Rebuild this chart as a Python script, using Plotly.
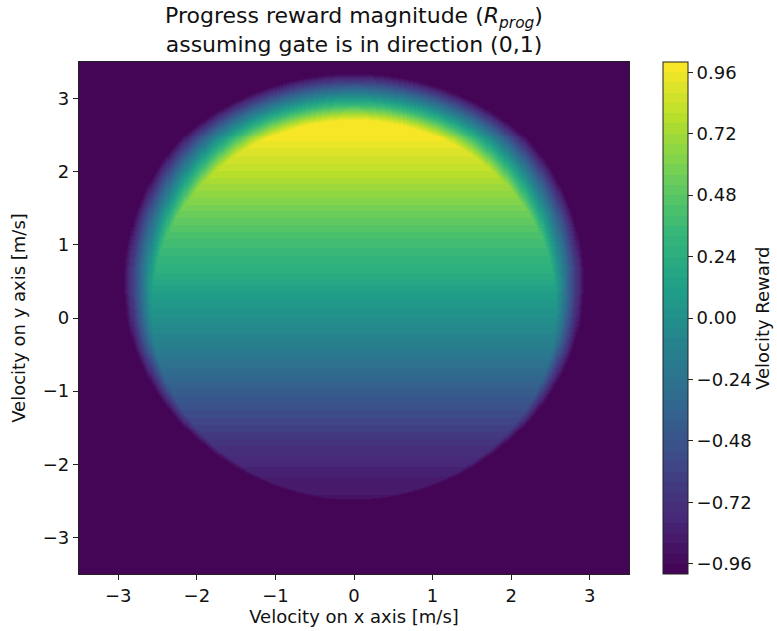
import numpy as np
import plotly.graph_objects as go
from plotly.colors import sample_colorscale

# ---- values ----
# reward along the gate direction (v_y) inside the allowed speed disc
vy_profile = [-3.5, -2.6, -2.24, -1.76, -1.28, -0.8, -0.4, 0.0, 0.17, 0.65, 1.13, 1.6, 2.08, 2.47, 2.7, 3.5]
reward_profile = [-0.95, -0.9, -0.86, -0.72, -0.53, -0.33, -0.15, 0.0, 0.05, 0.25, 0.42, 0.62, 0.83, 0.98, 1.0, 1.0]
# speed-limit disc (centre v_y, radius) and drop of reward per m/s beyond it
disc_center_vy = 0.12
disc_radius = 2.58
overspeed_drop = 3.1
reward_floor = -1.0

axis_ticks = [-3, -2, -1, 0, 1, 2, 3]
axis_ticktext = ["\u22123", "\u22122", "\u22121", "0", "1", "2", "3"]
cbar_ticks = [-0.96, -0.72, -0.48, -0.24, 0.0, 0.24, 0.48, 0.72, 0.96]
cbar_ticktext = ["\u22120.96", "\u22120.72", "\u22120.48", "\u22120.24", "0.00", "0.24", "0.48", "0.72", "0.96"]
n_levels = 50

# ---- build field ----
n = 520
vx = np.linspace(-3.5, 3.5, n)
vy = np.linspace(-3.5, 3.5, n)
VX, VY = np.meshgrid(vx, vy)
g = np.interp(VY, vy_profile, reward_profile)
speed = np.sqrt(VX**2 + (VY - disc_center_vy) ** 2)
Z = np.maximum(reward_floor, g - overspeed_drop * np.maximum(0.0, speed - disc_radius))
step = 2.0 / n_levels
idx = np.clip(np.floor((Z + 1.0) / step), 0, n_levels - 1)
Zq = -1.0 + step * idx + step / 2

cols = sample_colorscale("Viridis", [(i + 0.5) / n_levels for i in range(n_levels)])
cscale = []
for i, c in enumerate(cols):
    cscale.append([i / n_levels, c])
    cscale.append([(i + 1) / n_levels, c])

FONT = "DejaVu Sans"
fs = 18

fig = go.Figure(
    go.Heatmap(
        x=vx, y=vy, z=Zq, zmin=-1, zmax=1, colorscale=cscale, zsmooth=False,
        colorbar=dict(
            x=(663 - 79) / 550, xanchor="left", xref="paper",
            y=0.5, yanchor="middle", len=1, lenmode="fraction",
            thickness=25, thicknessmode="pixels",
            outlinewidth=1, outlinecolor="#222",
            tickvals=cbar_ticks, ticktext=cbar_ticktext,
            ticks="outside", ticklen=5, tickwidth=1, tickcolor="#222",
            tickfont=dict(family=FONT, size=fs, color="#111"),
            xpad=0, ypad=0,
        ),
    )
)

fig.update_layout(
    width=777, height=631,
    margin=dict(l=79, r=148, t=62, b=57),
    paper_bgcolor="white", plot_bgcolor="white",
    font=dict(family=FONT, size=fs, color="#111"),
    title=dict(
        text="Progress reward magnitude (<i>R</i><sub><i>prog</i></sub>)<br>assuming gate is in direction (0,1)",
        x=0.5, xref="paper", xanchor="center",
        y=1 - 23 / 631, yref="container", yanchor="middle",
        font=dict(family=FONT, size=22, color="#111"),
    ),
    xaxis=dict(
        range=[-3.5, 3.5], tickvals=axis_ticks, ticktext=axis_ticktext,
        ticks="outside", ticklen=5, tickwidth=1.2, tickcolor="#222",
        showline=True, linecolor="#222", linewidth=1.2, mirror=True,
        showgrid=False, zeroline=False, automargin=False,
        title=dict(text="Velocity on x axis [m/s]", standoff=0, font=dict(size=fs)),
    ),
    yaxis=dict(
        range=[-3.5, 3.5], tickvals=axis_ticks, ticktext=axis_ticktext,
        ticks="outside", ticklen=5, tickwidth=1.2, tickcolor="#222",
        showline=True, linecolor="#222", linewidth=1.2, mirror=True,
        showgrid=False, zeroline=False, automargin=False,
        title=dict(text="Velocity on y axis [m/s]", standoff=12, font=dict(size=fs)),
    ),
    annotations=[
        dict(text="Velocity Reward", textangle=-90, x=(762 - 79) / 550, y=0.5,
             xref="paper", yref="paper", xanchor="center", yanchor="middle",
             showarrow=False, font=dict(family=FONT, size=fs, color="#111"))
    ],
)

fig.write_html(
    "out.html",
    config={"displayModeBar": False},
    post_script="document.body.style.margin='0';document.body.style.overflow='hidden';",
)
